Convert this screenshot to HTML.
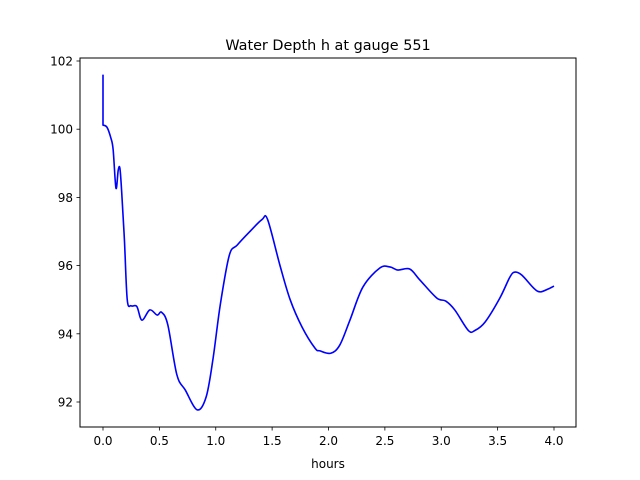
<!DOCTYPE html>
<html><head><meta charset="utf-8"><style>
html,body{margin:0;padding:0;background:#fff;}
svg{display:block;font-family:"DejaVu Sans","Liberation Sans",sans-serif;}
</style></head><body>
<svg id="chart" width="640" height="480" viewBox="0 0 640 480">
<rect x="0" y="0" width="640" height="480" fill="#fff"/>
<text x="328" y="50" text-anchor="middle" font-size="14.4" fill="#000">Water Depth h at gauge 551</text>
<g id="plot"></g>
<rect x="80" y="58" width="496" height="369" fill="none" stroke="#000" stroke-width="1"/>
<text x="328" y="468" text-anchor="middle" font-size="12" fill="#000">hours</text>
</svg>
<script>
const hours = [0,0,0.035,0.07,0.09,0.115,0.135,0.15,0.165,0.19,0.215,0.25,0.30,0.345,0.415,0.48,0.52,0.575,0.655,0.73,0.835,0.915,0.975,1.04,1.12,1.19,1.30,1.41,1.46,1.57,1.66,1.765,1.88,1.925,2.02,2.10,2.19,2.305,2.455,2.545,2.615,2.72,2.81,2.96,3.04,3.12,3.24,3.30,3.39,3.52,3.61,3.655,3.715,3.82,3.875,3.945,4.0];
const depth = [101.6,100.12,100.06,99.74,99.4,98.27,98.8,98.85,98.2,96.75,95.0,94.82,94.8,94.4,94.7,94.55,94.63,94.26,92.8,92.35,91.77,92.15,93.25,94.85,96.3,96.6,96.99,97.35,97.35,96.0,95.0,94.2,93.58,93.5,93.43,93.67,94.4,95.37,95.93,95.96,95.87,95.9,95.58,95.05,94.96,94.7,94.1,94.1,94.35,95.05,95.67,95.81,95.72,95.34,95.23,95.31,95.4];
const xTicks = [0.0,0.5,1.0,1.5,2.0,2.5,3.0,3.5,4.0];
const xTickLabels = ["0.0","0.5","1.0","1.5","2.0","2.5","3.0","3.5","4.0"];
const yTicks = [92,94,96,98,100,102];
const yTickLabels = ["92","94","96","98","100","102"];

const NS = "http://www.w3.org/2000/svg";
function xs(v){return 103 + v*112.75;}
function ys(v){return 61 + (102 - v)*34.1;}
const g = document.getElementById('plot');
function mk(tag, attrs){const e=document.createElementNS(NS,tag);for(const k in attrs)e.setAttribute(k,attrs[k]);return e;}

xTicks.forEach((t,i)=>{
  const l = mk('line',{x1:xs(t),x2:xs(t),y1:427,y2:430.5,stroke:'#000','stroke-width':0.8});
  
  
  g.appendChild(l);
  const tx = mk('text',{x:xs(t),y:445,'text-anchor':'middle','font-size':12,fill:'#000'});
  
  
  tx.textContent = xTickLabels[i];
  g.appendChild(tx);
});
yTicks.forEach((t,i)=>{
  const l = mk('line',{x1:76.5,x2:80,y1:ys(t),y2:ys(t),stroke:'#000','stroke-width':0.8});
  
  
  g.appendChild(l);
  const tx = mk('text',{x:73,y:ys(t)+4.5,'text-anchor':'end','font-size':12,fill:'#000'});
  
  
  tx.textContent = yTickLabels[i];
  g.appendChild(tx);
});

const P = hours.map((h,i)=>[xs(h), ys(depth[i])]);
let d = 'M'+P[0][0]+','+P[0][1]+' L'+P[1][0]+','+P[1][1];
for(let i=1;i<P.length-1;i++){
  const p0=P[i-1===0?1:i-1], p1=P[i], p2=P[i+1], p3=P[Math.min(i+2,P.length-1)];
  const c1=[p1[0]+(p2[0]-p0[0])/6, p1[1]+(p2[1]-p0[1])/6];
  const c2=[p2[0]-(p3[0]-p1[0])/6, p2[1]-(p3[1]-p1[1])/6];
  d += ' C'+c1[0]+','+c1[1]+' '+c2[0]+','+c2[1]+' '+p2[0]+','+p2[1];
}
const path = mk('path',{d:d,fill:'none',stroke:'#0000ff','stroke-width':1.6,'stroke-linejoin':'round'});


g.appendChild(path);
</script>
</body></html>
